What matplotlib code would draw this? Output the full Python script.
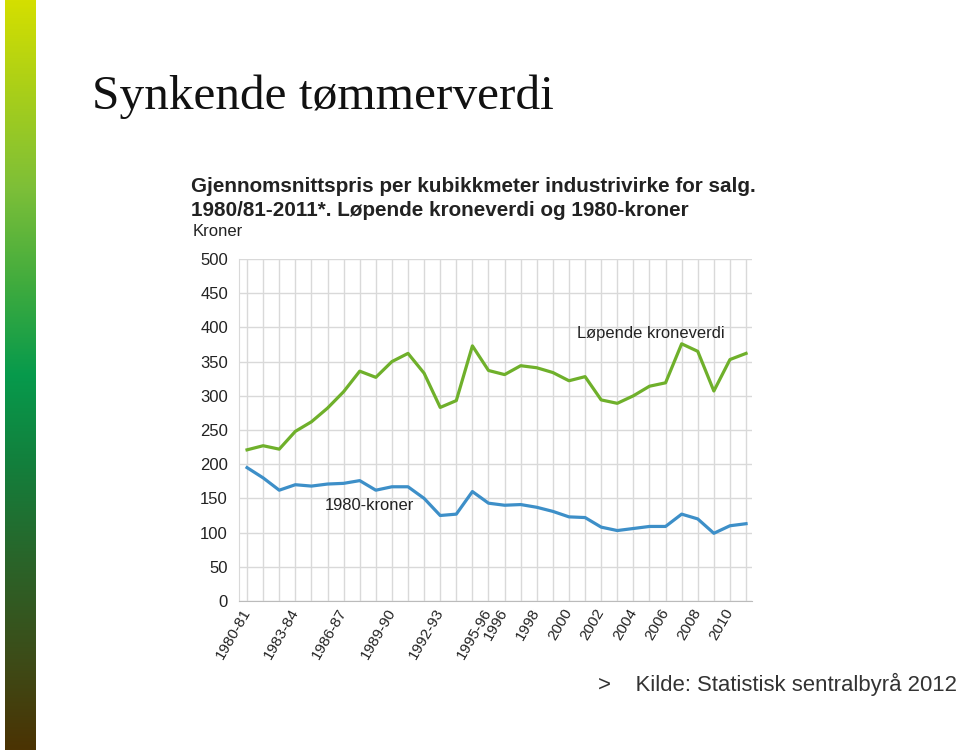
import numpy as np
import matplotlib
matplotlib.use('Agg')
import matplotlib.pyplot as plt
from matplotlib.colors import LinearSegmentedColormap


# ===== DATA =====
periods = (['1980-81', '1981-82', '1982-83', '1983-84', '1984-85', '1985-86', '1986-87', '1987-88',
            '1988-89', '1989-90', '1990-91', '1991-92', '1992-93', '1993-94', '1994-95', '1995-96']
           + [str(y) for y in range(1996, 2012)])
tick_labels = ['1980-81', '1983-84', '1986-87', '1989-90', '1992-93', '1995-96',
               '1996', '1998', '2000', '2002', '2004', '2006', '2008', '2010']

lopende = [221, 227, 222, 248, 262, 282, 306, 336, 327, 350, 362, 333, 283, 293, 373, 337,
           331, 344, 341, 334, 322, 328, 294, 289, 300, 314, 319, 376, 365, 307, 353, 362]
kroner_1980 = [195, 180, 162, 170, 168, 171, 172, 176, 162, 167, 167, 150, 125, 127, 160, 143,
               140, 141, 137, 131, 123, 122, 108, 103, 106, 109, 109, 127, 120, 99, 110, 113]

y_ticks = [0, 50, 100, 150, 200, 250, 300, 350, 400, 450, 500]

GREEN = '#6fb02b'
BLUE = '#3d8fc8'
GRID = '#d9d9d9'

W, H = 959, 752
fig = plt.figure(figsize=(W / 100, H / 100), dpi=100)
fig.patch.set_facecolor('white')

# ===== SIDE GRADIENT BAR =====
bar_ax = fig.add_axes([5 / W, 2 / H, 30 / W, 750 / H])
bar_cmap = LinearSegmentedColormap.from_list('bar', [
    (0.0, '#d4df00'), (0.12, '#a9cf19'), (0.25, '#7dbf38'), (0.38, '#3fab3e'),
    (0.5, '#079a4c'), (0.62, '#137f3c'), (0.75, '#2a6429'), (0.88, '#3d4c18'),
    (1.0, '#4b3303')])
bar_ax.imshow(np.linspace(0, 1, 256).reshape(-1, 1), aspect='auto', cmap=bar_cmap)
bar_ax.axis('off')

# ===== TITLES =====
fig.text(92 / W, 1 - 97 / H, 'Synkende tømmerverdi', family='Liberation Serif',
         fontsize=35.6, va='center', ha='left', color='#111111')
fig.text(191 / W, 1 - 186 / H, 'Gjennomsnittspris per kubikkmeter industrivirke for salg.',
         family='Liberation Sans', fontweight='bold', fontsize=14.9, va='center', color='#222222')
fig.text(191 / W, 1 - 211 / H, '1980/81-2011*. Løpende kroneverdi og 1980-kroner',
         family='Liberation Sans', fontweight='bold', fontsize=14.9, va='center', color='#222222')
fig.text(193 / W, 1 - 232 / H, 'Kroner', family='Liberation Sans', fontsize=12,
         va='center', color='#222222')
fig.text(598 / W, 1 - 684 / H, '>    Kilde: Statistisk sentralbyrå 2012', family='Liberation Sans',
         fontsize=15.9, va='center', color='#333333')

# ===== CHART =====
ax = fig.add_axes([239 / W, 1 - 601 / H, (752 - 239) / W, (601 - 259) / H])
x = np.arange(len(periods))
ax.plot(x, lopende, color=GREEN, lw=2.3, solid_joinstyle='round', zorder=3)
ax.plot(x, kroner_1980, color=BLUE, lw=2.3, solid_joinstyle='round', zorder=3)

ax.set_xlim(-0.5, 31.37)
ax.set_ylim(0, 500)
ax.set_yticks(y_ticks)
ax.set_yticklabels([str(v) for v in y_ticks], family='Liberation Sans', fontsize=12, color='#222222')
ax.set_xticks(x, minor=False)
ax.set_xticklabels([p if p in tick_labels else '' for p in periods], rotation=60,
                   rotation_mode='anchor', ha='right', va='center',
                   family='Liberation Sans', fontsize=11, color='#222222')
ax.tick_params(length=0, pad=8)
ax.tick_params(axis='x', pad=6)
ax.grid(True, color=GRID, lw=1)
ax.set_axisbelow(True)
for side in ['top', 'right']:
    ax.spines[side].set_visible(False)
ax.spines['left'].set_color(GRID)
ax.spines['bottom'].set_color('#bbbbbb')

ax.text(20.5, 391, 'Løpende kroneverdi', family='Liberation Sans', fontsize=11.9,
        va='center', ha='left', color='#222222')
ax.text(4.84, 139, '1980-kroner', family='Liberation Sans', fontsize=11.9,
        va='center', ha='left', color='#222222')

fig.savefig('out.png', dpi=100, facecolor='white')
